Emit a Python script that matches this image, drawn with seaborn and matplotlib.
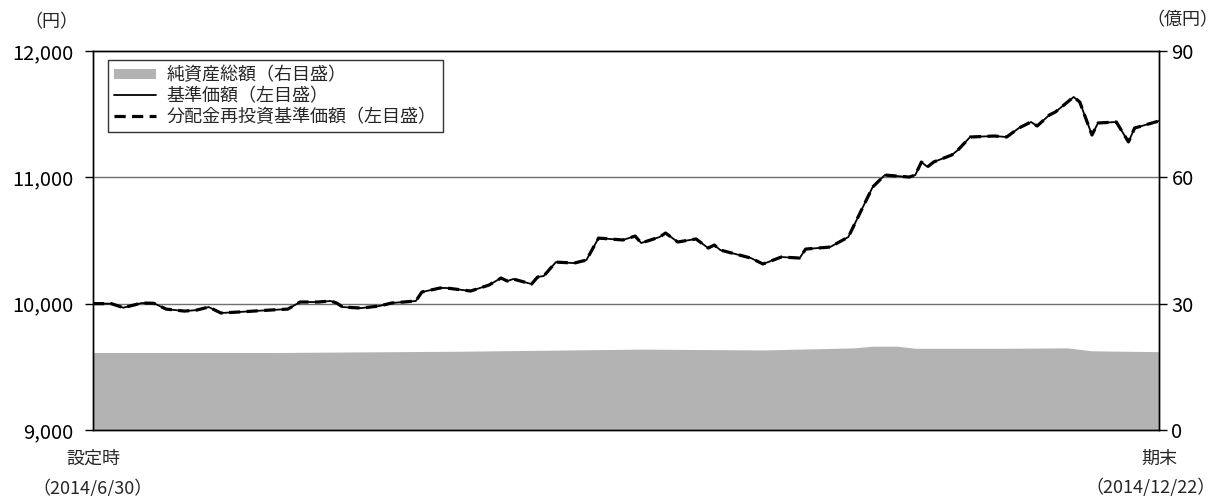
import pandas as pd
import numpy as np
import seaborn as sns
import matplotlib.pyplot as plt
from matplotlib.patches import Patch
from matplotlib.lines import Line2D

# データ（設定日からの経過日数と値）
start = pd.Timestamp('2014-06-30')
end = pd.Timestamp('2014-12-22')

nav_days = [0, 3, 5, 8, 10, 12, 15, 17, 19, 21, 24, 29, 32, 34, 37, 39, 40, 41,
            44, 47, 49, 53, 54, 57, 58, 62, 65, 67, 68, 69, 72, 73, 74, 76, 79,
            81, 83, 87, 89, 90, 93, 94, 96, 99, 101, 102, 103, 108, 110, 113,
            116, 117, 121, 124, 128, 130, 134, 135, 136, 137, 138, 141, 142,
            144, 148, 150, 152, 154, 155, 157, 158, 161, 162, 164, 165, 168,
            170, 171, 175]
nav_values = [10000, 10000, 9968, 10005, 10003, 9957, 9941, 9949, 9973, 9926,
              9934, 9949, 9957, 10013, 10013, 10021, 10005, 9973, 9965, 9981,
              10005, 10021, 10092, 10124, 10124, 10100, 10147, 10203, 10179,
              10195, 10155, 10211, 10219, 10329, 10321, 10345, 10519, 10504,
              10535, 10480, 10527, 10559, 10488, 10512, 10440, 10464, 10424,
              10361, 10314, 10369, 10361, 10432, 10448, 10527, 10923, 11018,
              11002, 11018, 11121, 11082, 11121, 11177, 11216, 11319, 11327,
              11319, 11390, 11438, 11406, 11493, 11517, 11636, 11596, 11335,
              11430, 11438, 11280, 11390, 11446]
# 分配金なしのため再投資基準価額は基準価額と同じ
reinvest_values = list(nav_values)

asset_days = [0, 30, 60, 90, 110, 125, 128, 132, 135, 150, 160, 164, 175]
asset_values = [18.4, 18.4, 18.7, 19.2, 19.0, 19.5, 19.9, 19.9, 19.4, 19.4, 19.5, 18.8, 18.6]

df = pd.DataFrame({'date': start + pd.to_timedelta(nav_days, unit='D'),
                   'nav': nav_values, 'reinvest': reinvest_values})
assets = pd.DataFrame({'date': start + pd.to_timedelta(asset_days, unit='D'),
                       'value': asset_values})

sns.set_style('white')
plt.rcParams['font.family'] = ['Noto Sans CJK JP', 'DejaVu Sans']

fig = plt.figure(figsize=(12.17, 4.96), dpi=100)
ax = fig.add_axes([0.0764, 0.1331, 0.8759, 0.7641])
ax2 = ax.twinx()

# 純資産総額（右目盛）
ax2.fill_between(assets['date'], 0, assets['value'], color='#b3b3b3', linewidth=0)
ax2.set_ylim(0, 90)
ax2.set_yticks([0, 30, 60, 90])
ax2.set_yticklabels(['0', '30', '60', '90'])

ax.set_zorder(ax2.get_zorder() + 1)
ax.patch.set_visible(False)

for y in [10000, 11000]:
    ax.axhline(y, color='#707070', linewidth=1, zorder=1)

sns.lineplot(data=df, x='date', y='nav', ax=ax, color='black', linewidth=1.3, zorder=3)
sns.lineplot(data=df, x='date', y='reinvest', ax=ax, color='black', linewidth=2.3,
             linestyle=(0, (3.5, 2)), zorder=4)

ax.set_xlim(start, end)
ax.set_ylim(9000, 12000)
ax.set_yticks([9000, 10000, 11000, 12000])
ax.set_yticklabels(['9,000', '10,000', '11,000', '12,000'])
ax.set_xticks([])
ax.set_xlabel('')
ax.set_ylabel('')
ax2.set_xticks([])

for a in (ax, ax2):
    for s in a.spines.values():
        s.set_color('black')
        s.set_linewidth(1)
    a.tick_params(axis='y', direction='out', length=6, width=1, colors='black',
                  labelsize=14.5)
ax.tick_params(axis='y', pad=8)
ax2.tick_params(axis='y', pad=3)

fig.text(51 / 1217, 1 - 22 / 496, '（円）', fontsize=13, ha='center', va='center')
fig.text(1182 / 1217, 1 - 20 / 496, '（億円）', fontsize=13, ha='center', va='center')

# 横軸の始点・終点ラベル
ax.text(0, -0.075, '設定時', transform=ax.transAxes, fontsize=13,
        ha='center', va='center', clip_on=False)
ax.text(0, -0.152, '（2014/6/30）', transform=ax.transAxes, fontsize=13,
        ha='center', va='center', clip_on=False)
ax.text(1, -0.075, '期末', transform=ax.transAxes, fontsize=13,
        ha='center', va='center', clip_on=False)
fig.text(0.999, 1 - 487 / 496, '（2014/12/22）', fontsize=13,
         ha='right', va='center')

handles = [Patch(facecolor='#b3b3b3', edgecolor='none'),
           Line2D([], [], color='black', linewidth=1.3),
           Line2D([], [], color='black', linewidth=2.3, linestyle=(0, (3.5, 2)))]
labels = ['純資産総額（右目盛）', '基準価額（左目盛）', '分配金再投資基準価額（左目盛）']
leg = ax.legend(handles, labels, loc='upper left', bbox_to_anchor=(0.014, 0.976),
                frameon=True, fancybox=False, edgecolor='black', fontsize=13,
                handlelength=2.3, handleheight=0.5, handletextpad=0.6,
                labelspacing=0.15, borderpad=0.35, borderaxespad=0)
leg.get_frame().set_linewidth(1)

fig.savefig('out.png', dpi=100)
